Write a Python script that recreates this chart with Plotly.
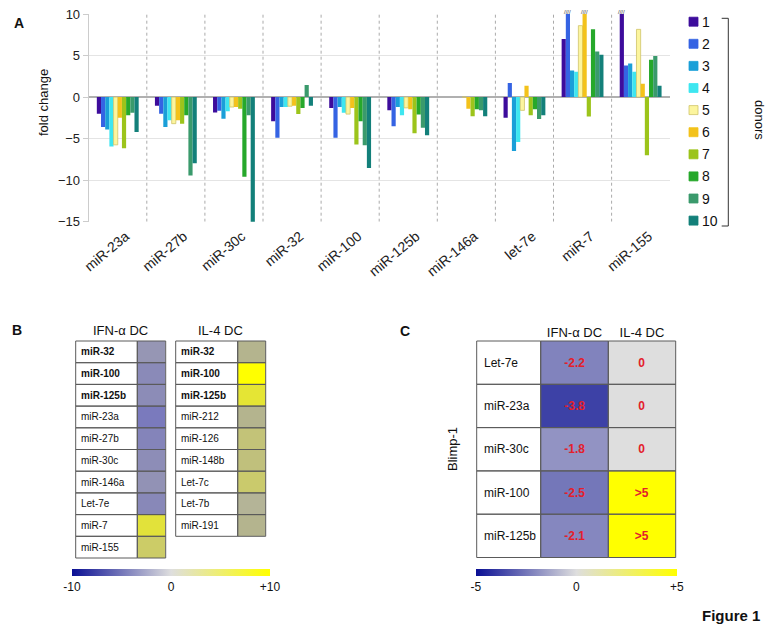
import plotly.graph_objects as go

# ---- data -------------------------------------------------------------
MIRNAS = ['miR-23a', 'miR-27b', 'miR-30c', 'miR-32', 'miR-100',
          'miR-125b', 'miR-146a', 'let-7e', 'miR-7', 'miR-155']
DONORS = ['1', '2', '3', '4', '5', '6', '7', '8', '9', '10']

# fold change per donor (one list per donor, ordered like MIRNAS); 10 = off-scale
DONOR_1 = [-2.0, -1.05, -1.85, -2.9, -1.3, -1.6, 0, -2.5, 7.0, 10]
DONOR_2 = [-3.6, -2.0, -1.65, -4.9, -4.9, -3.5, 0, 1.7, 10, 3.8]
DONOR_3 = [-3.9, -3.6, -2.6, -1.2, -1.2, -1.2, 0, -6.5, 3.2, 4.05]
DONOR_4 = [-5.95, -2.8, -1.7, -1.2, -1.9, -2.2, 0, -5.4, 3.05, 3.05]
DONOR_5 = [-5.75, -3.2, -1.2, -1.1, -2.05, -1.3, 0, -1.6, 8.6, 8.15]
DONOR_6 = [-2.5, -2.8, -1.2, -1.05, -1.3, -1.45, -1.4, 1.35, 10, 1.6]
DONOR_7 = [-6.15, -3.2, -1.4, -2.05, -5.7, -4.35, -2.3, -2.2, -2.35, -7.0]
DONOR_8 = [-2.2, -2.2, -9.6, -1.3, -2.9, -2.1, -1.45, -1.45, 8.15, 4.5]
DONOR_9 = [-1.9, -9.45, -2.2, 1.45, -5.8, -3.7, -1.6, -2.65, 5.5, 4.95]
DONOR_10 = [-4.2, -7.95, -15.2, -1.05, -8.55, -4.6, -2.3, -2.2, 5.1, 1.35]
DONOR_VALUES = [DONOR_1, DONOR_2, DONOR_3, DONOR_4, DONOR_5,
                DONOR_6, DONOR_7, DONOR_8, DONOR_9, DONOR_10]
CAP = 10

# panel B
B_IFN_LABELS = ['miR-32', 'miR-100', 'miR-125b', 'miR-23a', 'miR-27b',
                'miR-30c', 'miR-146a', 'Let-7e', 'miR-7', 'miR-155']
B_IFN_VALUES = [-1.4, -2.5, -2.3, -3.8, -3.0, -2.2, -1.7, -2.6, 7.0, 4.5]
B_IL4_LABELS = ['miR-32', 'miR-100', 'miR-125b', 'miR-212', 'miR-126',
                'miR-148b', 'Let-7c', 'Let-7b', 'miR-191']
B_IL4_VALUES = [1.0, 10.0, 7.3, 1.0, 3.2, 2.8, 4.2, 0.6, 1.0]
B_BOLD = ['miR-32', 'miR-100', 'miR-125b']

# panel C
C_LABELS = ['Let-7e', 'miR-23a', 'miR-30c', 'miR-100', 'miR-125b']
C_COLUMNS = ['IFN-α DC', 'IL-4 DC']
C_IFN = [-2.2, -3.8, -1.8, -2.5, -2.1]
C_IL4 = [0, 0, 0, 5, 5]
C_IL4_TEXT = ['0', '0', '0', '>5', '>5']

# ---- styling ----------------------------------------------------------
W, H = 773, 632
FONT = 'Liberation Sans, Arial, sans-serif'
COLORS = ['#3d0c9c', '#3563e3', '#1a9fd8', '#3ee6f0', '#fcf59e',
          '#f3c21b', '#9cc41b', '#26a82b', '#3a9a6c', '#13807a']
SMOOTH = [[0, '#0a0f94'], [0.5, '#dedede'], [1, '#ffff00']]
CELL_B = [[0.0, '#0a0f94'], [0.25, '#6c6cc2'], [0.35, '#8484ba'],
          [0.45, '#9a9ab2'], [0.5, '#b4b4a4'], [0.55, '#b4b48e'],
          [0.7, '#c8c870'], [0.85, '#e2e23a'], [1.0, '#ffff00']]
BARGAP = 0.28


def px(x):
    return x / W


def py(y):
    return 1 - y / H


def note(x, y, text, size, **kw):
    d = dict(x=px(x), y=py(y), xref='paper', yref='paper', text=text, showarrow=False,
             xanchor='center', yanchor='middle', font=dict(size=size, color='#111'))
    d.update(kw)
    return d


fig = go.Figure()

# ---- panel A: grouped bars ---------------------------------------------
for name, vals, col in zip(DONORS, DONOR_VALUES, COLORS):
    line = dict(color='#cfc46a', width=0.8) if name == '5' else dict(width=0)
    fig.add_trace(go.Bar(name=name, x=MIRNAS, y=vals, marker=dict(color=col, line=line),
                         showlegend=False, xaxis='x', yaxis='y'))

bar_w = (1 - BARGAP) / len(DONORS)
annotations = []
for d, vals in enumerate(DONOR_VALUES):
    for ci, v in enumerate(vals):
        if v >= CAP:
            annotations.append(dict(x=ci + (d - 4.5) * bar_w, y=v, xref='x', yref='y',
                                    text='////', showarrow=False, yanchor='bottom',
                                    font=dict(size=6, color='#333'), yshift=-3))

shapes = []
for i in range(len(MIRNAS) - 1):
    shapes.append(dict(type='line', xref='x', yref='y', x0=i + 0.5, x1=i + 0.5,
                       y0=-15, y1=10, layer='below',
                       line=dict(color='#aaaaaa', width=1, dash='3px,3px')))

# custom legend
for i, (name, col) in enumerate(zip(DONORS, COLORS)):
    cy = 21.7 + 22.1 * i
    shapes.append(dict(type='rect', xref='paper', yref='paper',
                       x0=px(689), x1=px(698), y0=py(cy + 4.5), y1=py(cy - 4.5),
                       fillcolor=col,
                       line=dict(color='#cfc46a' if name == '5' else col, width=0.8)))
    annotations.append(note(699.5, cy, name, 14, xanchor='left'))
shapes.append(dict(type='path', xref='paper', yref='paper',
                   path=f'M {px(721.7)},{py(18.3)} L {px(728.3)},{py(18.3)} '
                        f'L {px(728.3)},{py(226)} L {px(721.7)},{py(226)}',
                   line=dict(color='#333', width=1)))
annotations.append(note(760, 120, 'donors', 13, textangle=90))
annotations.append(note(44, 103, 'fold change', 13, textangle=-90))

# ---- panel B: tables ----------------------------------------------------
fig.add_trace(go.Heatmap(z=[[v] for v in B_IFN_VALUES], y=B_IFN_LABELS, x=['IFN'],
                         coloraxis='coloraxis', xaxis='x2', yaxis='y2', hoverinfo='skip'))
fig.add_trace(go.Heatmap(z=[[v] for v in B_IL4_VALUES], y=B_IL4_LABELS, x=['IL4'],
                         coloraxis='coloraxis', xaxis='x3', yaxis='y3', hoverinfo='skip'))
# dummy trace carrying the panel B colour bar
fig.add_trace(go.Scatter(x=[None], y=[None], mode='markers', showlegend=False,
                         marker=dict(color=[0], coloraxis='coloraxis2'),
                         xaxis='x', yaxis='y'))


def table(labels, left, split, right, top, rh, fsize, pad, bold=()):
    for i, lab in enumerate(labels):
        y0 = top + i * rh
        for a, b in ((left, split), (split, right)):
            shapes.append(dict(type='rect', xref='paper', yref='paper',
                               x0=px(a), x1=px(b), y0=py(y0 + rh), y1=py(y0),
                               line=dict(color='#5a5a5a', width=1)))
        txt = f'<b>{lab}</b>' if lab in bold else lab
        annotations.append(note(left + pad, y0 + rh / 2, txt, fsize, xanchor='left'))


table(B_IFN_LABELS, 75.7, 137.3, 165.7, 341, 21.7, 10, 3.6, B_BOLD)
table(B_IL4_LABELS, 175.7, 237.7, 265.7, 341, 21.7, 10, 3.6, B_BOLD)
annotations.append(note(120.7, 330, 'IFN-α DC', 13))
annotations.append(note(220.7, 330, 'IL-4 DC', 13))

# ---- panel C: table -----------------------------------------------------
fig.add_trace(go.Heatmap(z=[[a, b] for a, b in zip(C_IFN, C_IL4)], x=C_COLUMNS, y=C_LABELS,
                         text=[[str(a), t] for a, t in zip(C_IFN, C_IL4_TEXT)],
                         texttemplate='%{text}',
                         textfont=dict(color='#e3202b', size=12, weight='bold'),
                         coloraxis='coloraxis3', xaxis='x4', yaxis='y4', hoverinfo='skip'))
table(C_LABELS, 476.7, 540.7, 608.3, 341, 43.3, 12, 5)
for i in range(len(C_LABELS)):
    y0 = 341 + i * 43.3
    shapes.append(dict(type='rect', xref='paper', yref='paper', x0=px(608.3), x1=px(675.7),
                       y0=py(y0 + 43.3), y1=py(y0), line=dict(color='#5a5a5a', width=1)))
annotations.append(note(452, 449, 'Blimp-1', 13, textangle=-90))

# panel letters
for t, x, y in (('A', 19, 23), ('B', 17, 330), ('C', 405, 331)):
    annotations.append(note(x, y, f'<b>{t}</b>', 14))
annotations.append(note(762, 615, '<b>Figure 1</b>', 15, xanchor='right'))

hidden = dict(visible=False, showgrid=False, zeroline=False)
cbar = dict(orientation='h', thickness=7, outlinewidth=0, xpad=0, ypad=0,
            lenmode='fraction', xanchor='center', yanchor='top', ticks='',
            tickfont=dict(size=12, color='#111'))

fig.update_layout(
    width=W, height=H, margin=dict(l=0, r=0, t=0, b=0, autoexpand=False),
    paper_bgcolor='white', plot_bgcolor='white',
    font=dict(family=FONT, color='#222'),
    barmode='group', bargap=BARGAP, bargroupgap=0,
    xaxis=dict(domain=[px(88.7), px(669.7)], anchor='y', type='category',
               range=[-0.5, len(MIRNAS) - 0.5], tickangle=-40, showgrid=False,
               tickfont=dict(size=14, color='#222'), ticks='',
               ticklabelshift=8, ticklabelstandoff=3),
    yaxis=dict(domain=[py(221.7), py(14)], anchor='x', range=[-15, 10],
               tickvals=[-15, -10, -5, 0, 5, 10], showgrid=True, gridcolor='#e4e4e4',
               zeroline=True, zerolinecolor='#b0b0b0', zerolinewidth=1.5,
               showline=True, linecolor='#cccccc', ticks='outside', ticklen=5,
               tickcolor='#cccccc', tickfont=dict(size=13, color='#222')),
    xaxis2=dict(domain=[px(137.3), px(165.7)], anchor='y2', **hidden),
    yaxis2=dict(domain=[py(558), py(341)], anchor='x2', autorange='reversed', **hidden),
    xaxis3=dict(domain=[px(237.7), px(265.7)], anchor='y3', **hidden),
    yaxis3=dict(domain=[py(536.3), py(341)], anchor='x3', autorange='reversed', **hidden),
    xaxis4=dict(domain=[px(540.7), px(675.7)], anchor='y4', side='top', showgrid=False,
                zeroline=False, ticks='', tickfont=dict(size=13, color='#111')),
    yaxis4=dict(domain=[py(557.7), py(341)], anchor='x4', autorange='reversed',
                showticklabels=False, showgrid=False, zeroline=False),
    coloraxis=dict(colorscale=CELL_B, cmin=-10, cmax=10, showscale=False),
    coloraxis2=dict(colorscale=SMOOTH, cmin=-10, cmax=10, showscale=True,
                    colorbar=dict(x=px(171), y=py(569.3), len=(270 - 71.7) / W,
                                  tickvals=[-10, 0, 10], ticktext=['-10', '0', '+10'], **cbar)),
    coloraxis3=dict(colorscale=SMOOTH, cmin=-5, cmax=5, showscale=True,
                    colorbar=dict(x=px(576.4), y=py(569.3), len=(676.7 - 476) / W,
                                  tickvals=[-5, 0, 5], ticktext=['-5', '0', '+5'], **cbar)),
    shapes=shapes, annotations=annotations,
)

# the page body has a default 8px margin; drop it so the figure sits at the origin
fig.write_html("out.html", config={'displayModeBar': False},
               post_script="document.body.style.margin='0px';")
